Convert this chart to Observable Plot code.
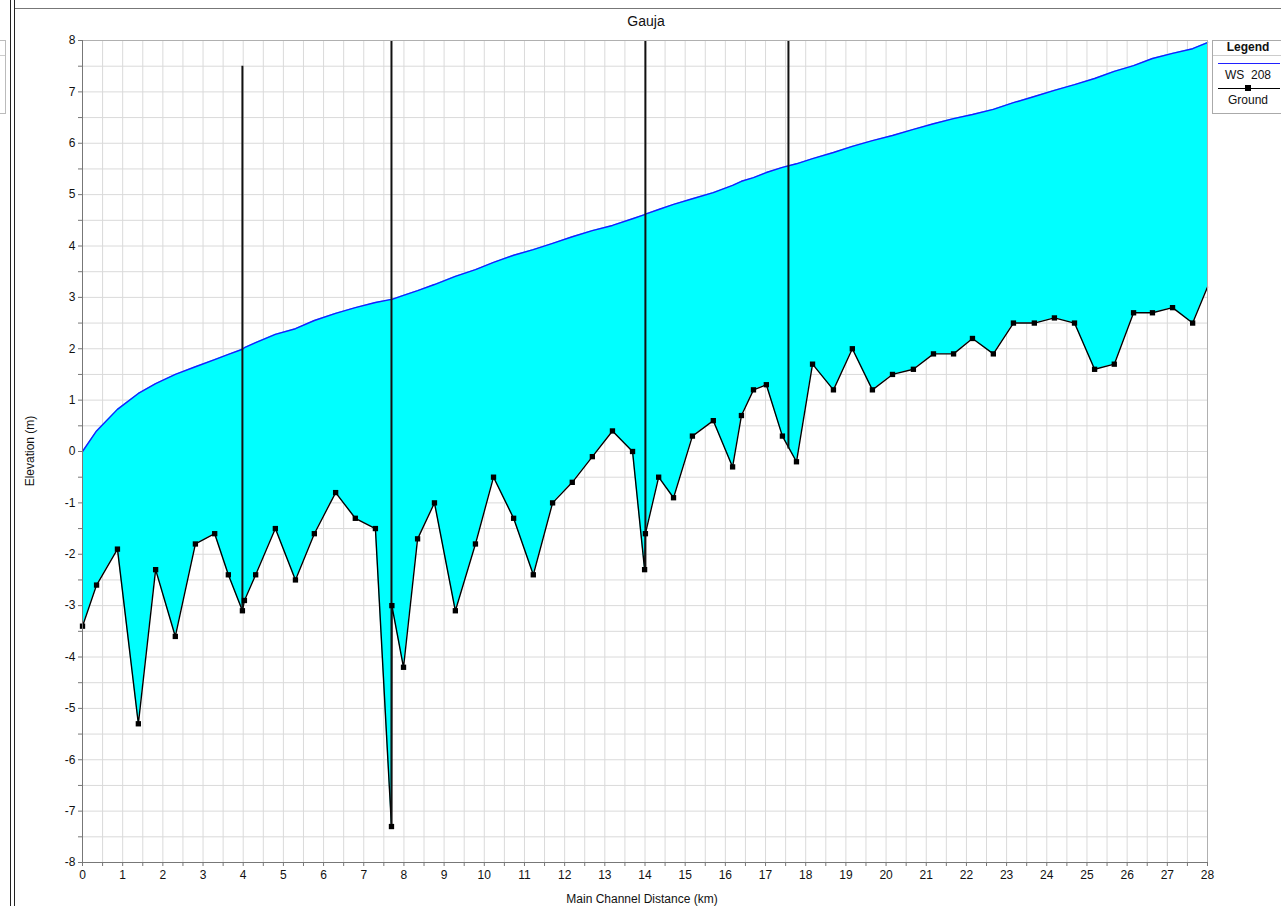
<!DOCTYPE html>
<html>
<head>
<meta charset="utf-8">
<script src="https://cdn.jsdelivr.net/npm/d3@7"></script>
<script src="https://cdn.jsdelivr.net/npm/@observablehq/plot@0.6"></script>
<style>
  body { margin: 0; background: #fff; font-family: "Liberation Sans", Arial, sans-serif; }
  #wrap { position: relative; width: 1281px; height: 906px; overflow: hidden; }
  .abs { position: absolute; }
  .txt { position: absolute; color: #111; white-space: nowrap; }
</style>
</head>
<body>
<div id="wrap">
  <div id="chart" class="abs" style="left:0;top:0"></div>
  <!-- window frame decorations -->
  <div class="abs" style="left:10px;top:0;width:1px;height:906px;background:#222"></div>
  <div class="abs" style="left:14px;top:0;width:1px;height:906px;background:#222"></div>
  <div class="abs" style="left:15px;top:8px;width:1266px;height:1px;background:#777"></div>
  <div class="abs" style="left:-2px;top:40px;width:6px;height:72px;border:1px solid #bbb"></div>
  <div class="abs" style="left:0px;top:55px;width:5px;height:1px;background:#ccc"></div>
  <!-- texts -->
  <div class="txt" id="title" style="left:646px;top:21px;transform:translate(-50%,-50%);font-size:14px;">Gauja</div>
  <div class="txt" id="xlabel" style="left:642px;top:899px;transform:translate(-50%,-50%);font-size:12px;">Main Channel Distance (km)</div>
  <div class="txt" id="ylabel" style="left:30px;top:451px;transform:translate(-50%,-50%) rotate(-90deg);font-size:12px;">Elevation (m)</div>
  <!-- legend -->
  <div class="abs" style="left:1212px;top:40px;width:80px;height:72px;border:1px solid #aaa;background:#fff"></div>
  <div class="abs" style="left:1213px;top:55px;width:68px;height:1px;background:#ccc"></div>
  <div class="txt" style="left:1248px;top:47px;transform:translate(-50%,-50%);font-size:12px;font-weight:bold;">Legend</div>
  <div class="abs" style="left:1218px;top:63px;width:62px;height:1px;background:#2020ff"></div>
  <div class="txt" style="left:1248px;top:75px;transform:translate(-50%,-50%);font-size:12px;">WS&nbsp; 208</div>
  <div class="abs" style="left:1218px;top:88px;width:62px;height:1px;background:#000"></div>
  <div class="abs" style="left:1245px;top:85px;width:6px;height:6px;background:#000"></div>
  <div class="txt" style="left:1248px;top:100px;transform:translate(-50%,-50%);font-size:12px;">Ground</div>
</div>
<script>
// Main channel distance (km) of each profile point
const stationKm = [0.00, 0.35, 0.87, 1.39, 1.82, 2.31, 2.81, 3.29, 3.63, 3.98, 4.03, 4.31, 4.80, 5.30, 5.77, 6.30, 6.79, 7.29, 7.69, 7.70, 7.99, 8.34, 8.76, 9.28, 9.78, 10.23, 10.73, 11.22, 11.70, 12.19, 12.69, 13.19, 13.69, 13.99, 14.01, 14.34, 14.71, 15.18, 15.70, 16.18, 16.40, 16.70, 17.02, 17.42, 17.77, 18.17, 18.69, 19.16, 19.66, 20.16, 20.68, 21.18, 21.68, 22.15, 22.67, 23.17, 23.69, 24.19, 24.69, 25.19, 25.68, 26.16, 26.63, 27.13, 27.63, 28.00];
// Ground (channel bed) elevation (m)
const groundM = [-3.4, -2.6, -1.9, -5.3, -2.3, -3.6, -1.8, -1.6, -2.4, -3.1, -2.9, -2.4, -1.5, -2.5, -1.6, -0.8, -1.3, -1.5, -7.3, -3.0, -4.2, -1.7, -1.0, -3.1, -1.8, -0.5, -1.3, -2.4, -1.0, -0.6, -0.1, 0.4, 0.0, -2.3, -1.6, -0.5, -0.9, 0.3, 0.6, -0.3, 0.7, 1.2, 1.3, 0.3, -0.2, 1.7, 1.2, 2.0, 1.2, 1.5, 1.6, 1.9, 1.9, 2.2, 1.9, 2.5, 2.5, 2.6, 2.5, 1.6, 1.7, 2.7, 2.7, 2.8, 2.5, 3.2];
// Water surface "WS 208" elevation (m)
const wsM = [0.0, 0.4, 0.82, 1.13, 1.32, 1.5, 1.65, 1.79, 1.89, 1.99, 2.02, 2.12, 2.28, 2.39, 2.55, 2.69, 2.8, 2.9, 2.96, 2.96, 3.04, 3.13, 3.25, 3.41, 3.54, 3.68, 3.82, 3.93, 4.05, 4.18, 4.3, 4.4, 4.53, 4.61, 4.62, 4.71, 4.81, 4.92, 5.04, 5.18, 5.26, 5.33, 5.43, 5.53, 5.6, 5.7, 5.82, 5.94, 6.05, 6.15, 6.27, 6.38, 6.48, 6.56, 6.66, 6.79, 6.91, 7.03, 7.14, 7.26, 7.4, 7.51, 7.65, 7.75, 7.84, 7.96];
// Structures (bridges) drawn as vertical lines
const structKm = [3.98, 7.69, 14.01, 17.57];
const structBottom = [-3.1, -7.3, -2.3, 0.05];
const structTop = [7.5, 8, 8, 8];
// Axis ticks
const xMinor = d3.range(0, 28.001, 0.5);
const yMinor = d3.range(-8, 8.001, 0.5);

const profile = stationKm.map((km, i) => ({km, ground: groundM[i], ws: wsM[i]}));
const markers = profile.slice(0, profile.length - 1);
const structures = structKm.map((km, i) => ({km, y1: structBottom[i], y2: structTop[i]}));

const chart = Plot.plot({
  width: 1281,
  height: 906,
  marginLeft: 82,
  marginRight: 74,
  marginTop: 40,
  marginBottom: 44,
  x: {domain: [0, 28]},
  y: {domain: [-8, 8]},
  style: {fontFamily: "'Liberation Sans', Arial, sans-serif", fontSize: "12px", color: "#111", background: "transparent"},
  marks: [
    Plot.gridX(xMinor, {stroke: "#dadada", strokeOpacity: 1, strokeWidth: 1}),
    Plot.gridY(yMinor, {stroke: "#dadada", strokeOpacity: 1, strokeWidth: 1}),
    Plot.areaY(profile, {x: "km", y1: "ground", y2: "ws", fill: "#00ffff", curve: "linear"}),
    Plot.line(profile, {x: "km", y: "ws", stroke: "#1a1aff", strokeWidth: 1.4, curve: "linear"}),
    Plot.line(profile, {x: "km", y: "ground", stroke: "#000", strokeWidth: 1.4, curve: "linear"}),
    Plot.ruleX(structures, {x: "km", y1: "y1", y2: "y2", stroke: "#111", strokeWidth: 2}),
    Plot.dot(markers, {x: "km", y: "ground", symbol: "square", r: 3, fill: "#000", stroke: null}),
    Plot.frame({stroke: "#b0b0b0"}),
    Plot.ruleX([0], {stroke: "#777"}),
    Plot.ruleY([-8], {stroke: "#777"}),
    Plot.axisX({ticks: xMinor, tickSize: 4, tickPadding: 4, tickFormat: d => Number.isInteger(d) ? String(d) : "", label: null, stroke: "#777", fontSize: 12}),
    Plot.axisY({ticks: yMinor, tickSize: 4, tickPadding: 3, tickFormat: d => Number.isInteger(d) ? String(d) : "", label: null, stroke: "#777", fontSize: 12})
  ]
});
document.getElementById("chart").appendChild(chart);
</script>
</body>
</html>
